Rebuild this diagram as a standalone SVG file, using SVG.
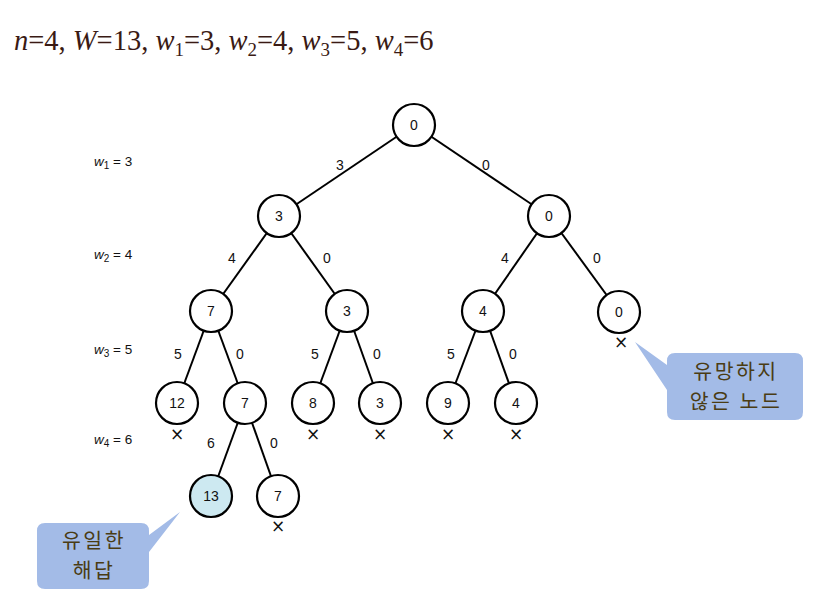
<svg xmlns="http://www.w3.org/2000/svg" width="815" height="599" viewBox="0 0 815 599">
<style>
.node circle{fill:#fff;stroke:#000;stroke-width:2.2}
.node text,.lbl{font-family:"Liberation Sans",Arial,sans-serif;font-size:14px;text-anchor:middle;fill:#111}
.edges line{stroke:#000;stroke-width:2}
.node text.x{font-family:"DejaVu Sans","Liberation Sans",sans-serif;font-size:17px;text-anchor:middle;fill:#111}
.lv{font-family:"Liberation Sans",Arial,sans-serif;font-size:13.5px;fill:#111}
.title{font-family:"Liberation Serif","Times New Roman",serif;font-size:28.5px;fill:#3a1a14}
.call{fill:#a3bbe7}
.ct{font-family:"Noto Sans CJK KR","Noto Sans CJK SC",sans-serif;font-size:20.5px;letter-spacing:2.5px;fill:#4a3c14;text-anchor:middle}
</style>
<rect width="815" height="599" fill="#fff"/>
<text class="title" x="14" y="50"><tspan font-style="italic">n</tspan>=4, <tspan font-style="italic">W</tspan>=13, <tspan font-style="italic">w</tspan><tspan font-size="19" dy="6">1</tspan><tspan dy="-6">=3, </tspan><tspan font-style="italic">w</tspan><tspan font-size="19" dy="6">2</tspan><tspan dy="-6">=4, </tspan><tspan font-style="italic">w</tspan><tspan font-size="19" dy="6">3</tspan><tspan dy="-6">=5, </tspan><tspan font-style="italic">w</tspan><tspan font-size="19" dy="6">4</tspan><tspan dy="-6">=6</tspan></text>
<g id="levels">
<text class="lv" x="94" y="166"><tspan font-style="italic">w</tspan><tspan font-size="10" dy="3">1</tspan><tspan dy="-3"> = 3</tspan></text>
<text class="lv" x="94" y="259"><tspan font-style="italic">w</tspan><tspan font-size="10" dy="3">2</tspan><tspan dy="-3"> = 4</tspan></text>
<text class="lv" x="94" y="354"><tspan font-style="italic">w</tspan><tspan font-size="10" dy="3">3</tspan><tspan dy="-3"> = 5</tspan></text>
<text class="lv" x="94" y="444"><tspan font-style="italic">w</tspan><tspan font-size="10" dy="3">4</tspan><tspan dy="-3"> = 6</tspan></text>
</g>
<g id="connectors" class="edges">
<line x1="414" y1="125" x2="279" y2="216"/>
<line x1="414" y1="125" x2="549" y2="216"/>
<line x1="279" y1="216" x2="211" y2="311"/>
<line x1="279" y1="216" x2="347" y2="311"/>
<line x1="549" y1="216" x2="483" y2="311"/>
<line x1="549" y1="216" x2="619" y2="312"/>
<line x1="211" y1="311" x2="177" y2="403"/>
<line x1="211" y1="311" x2="245" y2="403"/>
<line x1="347" y1="311" x2="313" y2="403"/>
<line x1="347" y1="311" x2="380" y2="403"/>
<line x1="483" y1="311" x2="448" y2="403"/>
<line x1="483" y1="311" x2="516" y2="403"/>
<line x1="245" y1="403" x2="211" y2="496"/>
<line x1="245" y1="403" x2="278" y2="496"/>
<text class="lbl" x="340" y="170">3</text>
<text class="lbl" x="486" y="170">0</text>
<text class="lbl" x="232" y="263">4</text>
<text class="lbl" x="327" y="263">0</text>
<text class="lbl" x="505" y="263">4</text>
<text class="lbl" x="597" y="263">0</text>
<text class="lbl" x="178" y="359">5</text>
<text class="lbl" x="240" y="359">0</text>
<text class="lbl" x="315" y="359">5</text>
<text class="lbl" x="377" y="359">0</text>
<text class="lbl" x="451" y="359">5</text>
<text class="lbl" x="513" y="359">0</text>
<text class="lbl" x="211" y="448">6</text>
<text class="lbl" x="274" y="448">0</text>
</g>
<g id="n0" class="node"><circle cx="414" cy="125" r="21"/><text x="414" y="130">0</text></g>
<g id="n1" class="node"><circle cx="279" cy="216" r="21"/><text x="279" y="221">3</text></g>
<g id="n2" class="node"><circle cx="549" cy="216" r="21"/><text x="549" y="221">0</text></g>
<g id="n3" class="node"><circle cx="211" cy="311" r="21"/><text x="211" y="316">7</text></g>
<g id="n4" class="node"><circle cx="347" cy="311" r="21"/><text x="347" y="316">3</text></g>
<g id="n5" class="node"><circle cx="483" cy="311" r="21"/><text x="483" y="316">4</text></g>
<g id="n6" class="node"><circle cx="619" cy="312" r="21"/><text x="619" y="317">0</text><text class="x" x="621" y="348">×</text></g>
<g id="n7" class="node"><circle cx="177" cy="403" r="21"/><text x="177" y="408">12</text><text class="x" x="177" y="440">×</text></g>
<g id="n8" class="node"><circle cx="245" cy="403" r="21"/><text x="245" y="408">7</text></g>
<g id="n9" class="node"><circle cx="313" cy="403" r="21"/><text x="313" y="408">8</text><text class="x" x="313" y="440">×</text></g>
<g id="n10" class="node"><circle cx="380" cy="403" r="21"/><text x="380" y="408">3</text><text class="x" x="380" y="440">×</text></g>
<g id="n11" class="node"><circle cx="448" cy="403" r="21"/><text x="448" y="408">9</text><text class="x" x="448" y="440">×</text></g>
<g id="n12" class="node"><circle cx="516" cy="403" r="21"/><text x="516" y="408">4</text><text class="x" x="516" y="440">×</text></g>
<g id="n13" class="node"><circle cx="211" cy="496" r="21" style="fill:#cde9f1"/><text x="211" y="501">13</text></g>
<g id="n14" class="node"><circle cx="278" cy="496" r="21"/><text x="278" y="501">7</text><text class="x" x="278" y="532">×</text></g>
<g id="callout-right">
<path class="call" d="M675,353 H795 Q803,353 803,361 V412 Q803,420 795,420 H675 Q667,420 667,412 V390 L635,342 L667,365 V361 Q667,353 675,353 Z"/>
<text class="ct" x="736" y="379">유망하지</text>
<text class="ct" x="736" y="409">않은 노드</text>
</g>
<g id="callout-left">
<path class="call" d="M45,523 H141 Q149,523 149,531 V535 L180,512 L149,552 V581 Q149,589 141,589 H45 Q37,589 37,581 V531 Q37,523 45,523 Z"/>
<text class="ct" x="94" y="548">유일한</text>
<text class="ct" x="94" y="578">해답</text>
</g>
</svg>
